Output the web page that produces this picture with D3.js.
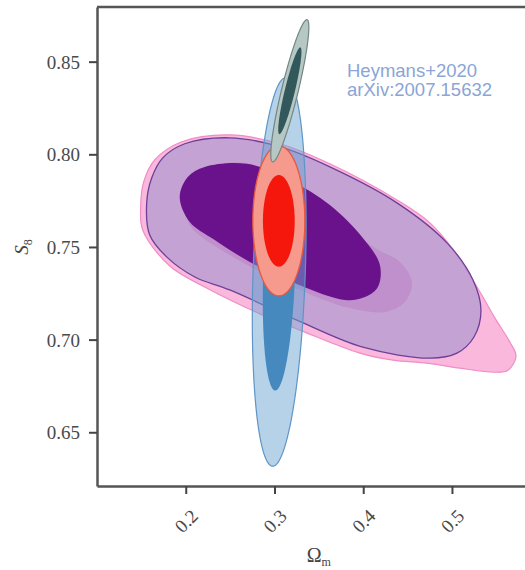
<!DOCTYPE html>
<html>
<head>
<meta charset="utf-8">
<script src="https://cdn.jsdelivr.net/npm/d3@7"></script>
<style>
  html, body { margin: 0; padding: 0; background: #ffffff; }
  svg { display: block; }
</style>
</head>
<body>
<script>
// ---- axis ticks ----
const omegaTicks = [0.2, 0.3, 0.4, 0.5];
const omegaTickLabels = ["0.2", "0.3", "0.4", "0.5"];
const s8Ticks = [0.65, 0.70, 0.75, 0.80, 0.85];
const s8TickLabels = ["0.65", "0.70", "0.75", "0.80", "0.85"];
const omegaRange = [0.1, 0.6];
const s8Range = [0.621, 0.8795];

// ---- contour outlines, [Omega_m, S8] ----
// pink posterior: 95% and 68% regions
const pinkOuter = [
  [0.1492, 0.7716], [0.1526, 0.7851], [0.1650, 0.7970], [0.1955, 0.8068],
  [0.2496, 0.8105], [0.3060, 0.8057], [0.3624, 0.7949], [0.4380, 0.7754],
  [0.4752, 0.7630], [0.5034, 0.7473], [0.5316, 0.7257], [0.5485, 0.7116],
  [0.5654, 0.6986], [0.5722, 0.6911], [0.5632, 0.6835], [0.5485, 0.6824],
  [0.5090, 0.6846], [0.4718, 0.6873], [0.4335, 0.6889], [0.3962, 0.6927],
  [0.3286, 0.7051], [0.2868, 0.7132], [0.2214, 0.7284], [0.1820, 0.7397],
  [0.1515, 0.7592]
];
const pinkInner = [
  [0.1989, 0.7781], [0.2158, 0.7905], [0.2665, 0.7954], [0.3300, 0.7800],
  [0.3737, 0.7635], [0.4132, 0.7495], [0.4413, 0.7419], [0.4549, 0.7311],
  [0.4470, 0.7203], [0.4244, 0.7149], [0.3850, 0.7170], [0.3286, 0.7268],
  [0.2496, 0.7457], [0.2045, 0.7619]
];
// purple posterior: 95% and 68% regions
const purpleOuter = [
  [0.1560, 0.7738], [0.1617, 0.7873], [0.1741, 0.7981], [0.1989, 0.8057],
  [0.2496, 0.8089], [0.3060, 0.8041], [0.3624, 0.7932], [0.4380, 0.7738],
  [0.4944, 0.7522], [0.5237, 0.7322], [0.5327, 0.7159], [0.5248, 0.7014],
  [0.5056, 0.6927], [0.4752, 0.6900], [0.3996, 0.6959], [0.3252, 0.7105],
  [0.2496, 0.7268], [0.2102, 0.7338], [0.1797, 0.7441], [0.1594, 0.7565]
];
const purpleInner = [
  [0.1932, 0.7770], [0.2023, 0.7878], [0.2214, 0.7932], [0.2688, 0.7949],
  [0.3173, 0.7862], [0.3624, 0.7727], [0.3996, 0.7549], [0.4188, 0.7403],
  [0.4165, 0.7284], [0.4019, 0.7230], [0.3793, 0.7214], [0.3252, 0.7300],
  [0.2722, 0.7419], [0.2327, 0.7538], [0.2045, 0.7635]
];

// Gaussian posteriors: mean, standard deviations and correlation
const blueMean = [0.3053, 0.7365];
const blueSigma = [0.0122, 0.0422];
const blueRho = 0.24;
const grayMean = [0.3173, 0.8343];
const graySigma = [0.00863, 0.01545];
const grayRho = 0.894;
const redMean = [0.3049, 0.7641];
const redSigma = [0.0118, 0.0163];
const redRho = 0.0;
// delta chi^2 for the 68% and 95% regions in two parameters
const chi2Levels = [2.30, 6.17];

const annotationLines = ["Heymans+2020", "arXiv:2007.15632"];

// ---- layout ----
const W = 525, H = 570;
const plotLeft = 97, plotTop = 7, plotBottom = 486, plotRightEdge = 540.7;

const svg = d3.select("body").append("svg")
  .attr("width", W).attr("height", H);

const x = d3.scaleLinear().domain(omegaRange).range([plotLeft, plotRightEdge]);
const y = d3.scaleLinear().domain(s8Range).range([plotBottom, plotTop]);

svg.append("defs").append("clipPath").attr("id", "plotArea")
  .append("rect")
  .attr("x", plotLeft).attr("y", plotTop)
  .attr("width", plotRightEdge - plotLeft).attr("height", plotBottom - plotTop);

const smooth = d3.line()
  .x(d => x(d[0])).y(d => y(d[1]))
  .curve(d3.curveCatmullRomClosed.alpha(0.5));
const straight = d3.line()
  .x(d => x(d[0])).y(d => y(d[1]))
  .curve(d3.curveLinearClosed);

function ellipse(mean, sigma, rho, level) {
  const r = Math.sqrt(level);
  const c = Math.sqrt(1 - rho * rho);
  return d3.range(0, 180).map(i => {
    const t = i / 180 * 2 * Math.PI;
    const u = Math.cos(t), v = Math.sin(t);
    return [mean[0] + r * sigma[0] * u,
            mean[1] + r * sigma[1] * (rho * u + c * v)];
  });
}

const g = svg.append("g").attr("clip-path", "url(#plotArea)");

// pink
g.append("path").attr("d", smooth(pinkOuter))
  .attr("fill", "#f9b8dc").attr("stroke", "#f08dc6").attr("stroke-width", 1.2);
g.append("path").attr("d", smooth(pinkInner))
  .attr("fill", "#ef94cc").attr("stroke", "none");

// purple
g.append("path").attr("d", smooth(purpleOuter))
  .attr("fill", "rgb(144,140,202)").attr("fill-opacity", 0.5)
  .attr("stroke", "#6e3f98").attr("stroke-width", 1.3);
g.append("path").attr("d", smooth(purpleInner))
  .attr("fill", "#6a128c").attr("stroke", "none");

// blue
g.append("path").attr("d", straight(ellipse(blueMean, blueSigma, blueRho, chi2Levels[1])))
  .attr("fill", "rgb(108,166,212)").attr("fill-opacity", 0.5)
  .attr("stroke", "#5f95c6").attr("stroke-width", 1.2);
g.append("path").attr("d", straight(ellipse(blueMean, blueSigma, blueRho, chi2Levels[0])))
  .attr("fill", "#4689bf").attr("stroke", "none");

// red
g.append("path").attr("d", straight(ellipse(redMean, redSigma, redRho, chi2Levels[1])))
  .attr("fill", "#f59a8c").attr("stroke", "#e8573f").attr("stroke-width", 1.3);
g.append("path").attr("d", straight(ellipse(redMean, redSigma, redRho, chi2Levels[0])))
  .attr("fill", "#f5170b").attr("stroke", "none");

// gray
g.append("path").attr("d", straight(ellipse(grayMean, graySigma, grayRho, chi2Levels[1])))
  .attr("fill", "#b7c7c4").attr("stroke", "#6f8785").attr("stroke-width", 1.2);
g.append("path").attr("d", straight(ellipse(grayMean, graySigma, grayRho, chi2Levels[0])))
  .attr("fill", "#33585b").attr("stroke", "none");

// ---- axes ----
const axisColor = "#555555";
const tickFont = "'Liberation Serif', 'DejaVu Serif', serif";

const yAxis = svg.append("g")
  .attr("transform", `translate(${plotLeft},0)`)
  .call(d3.axisLeft(y).tickValues(s8Ticks)
    .tickFormat((d, i) => s8TickLabels[i]).tickSize(8).tickSizeOuter(0).tickPadding(9));
const xAxis = svg.append("g")
  .attr("transform", `translate(0,${plotBottom})`)
  .call(d3.axisBottom(x).tickValues(omegaTicks)
    .tickFormat((d, i) => omegaTickLabels[i]).tickSize(8).tickSizeOuter(0));

[yAxis, xAxis].forEach(a => {
  a.select(".domain").attr("stroke", axisColor).attr("stroke-width", 2.5);
  a.selectAll(".tick line").attr("stroke", "#444").attr("stroke-width", 2);
  a.selectAll(".tick text")
    .attr("fill", "#4a4a4a")
    .style("font-family", tickFont)
    .style("font-size", "19px");
});
yAxis.selectAll(".tick text").attr("dy", "0.34em");
xAxis.selectAll(".tick text")
  .attr("y", null).attr("dy", null)
  .attr("text-anchor", "middle")
  .attr("dominant-baseline", "central")
  .attr("transform", "translate(0,35) rotate(-45)");

// top spine
svg.append("line")
  .attr("x1", plotLeft).attr("x2", plotRightEdge)
  .attr("y1", plotTop).attr("y2", plotTop)
  .attr("stroke", axisColor).attr("stroke-width", 2.5);

// axis titles
const yTitle = svg.append("text")
  .attr("transform", `translate(28,${y(0.75)}) rotate(-90)`)
  .attr("text-anchor", "middle")
  .attr("fill", "#444")
  .style("font-family", tickFont)
  .style("font-size", "19px");
yTitle.append("tspan").style("font-style", "italic").text("S");
yTitle.append("tspan").attr("dy", 4).style("font-size", "12px").text("8");

const xTitle = svg.append("text")
  .attr("x", x(0.35)).attr("y", 562)
  .attr("text-anchor", "middle")
  .attr("fill", "#444")
  .style("font-family", tickFont)
  .style("font-size", "20px");
xTitle.append("tspan").text("Ω");
xTitle.append("tspan").attr("dy", 4).style("font-size", "12px").text("m");

// reference annotation
svg.append("g").selectAll("text").data(annotationLines).join("text")
  .attr("x", 347).attr("y", (d, i) => 77 + i * 19)
  .attr("fill", "#8aa5d6")
  .style("font-family", "'Liberation Sans', Arial, sans-serif")
  .style("font-size", "18.5px")
  .text(d => d);
</script>
</body>
</html>
